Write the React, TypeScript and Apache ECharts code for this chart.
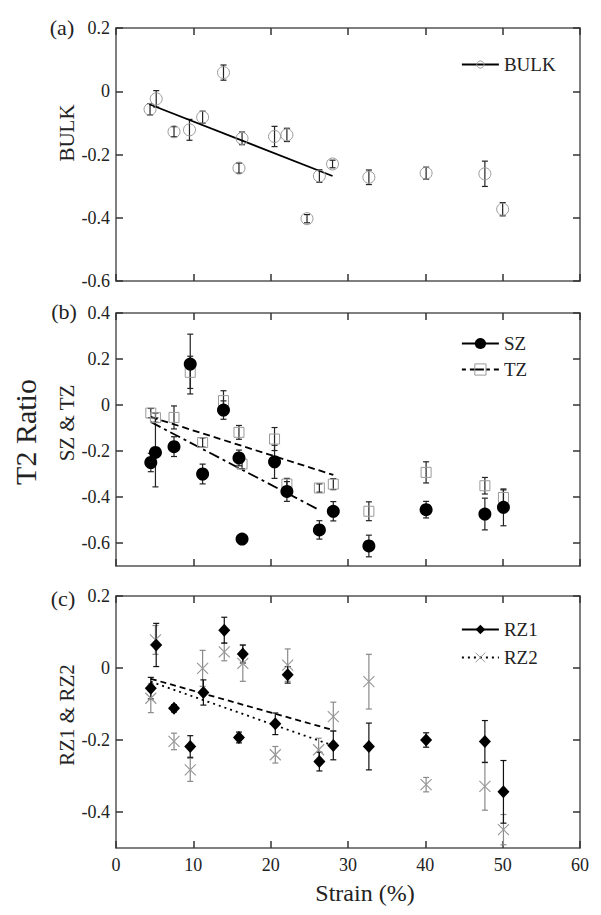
import React, { useEffect, useRef } from 'react';
import * as echarts from 'echarts';

const FONT = 'Liberation Serif';

// ---------- Panel (a) BULK ----------
const strainBulk = [4.4, 5.2, 7.5, 9.5, 11.2, 13.9, 15.9, 16.3, 20.5, 22.1, 24.7, 26.3, 28.0, 32.7, 40.1, 47.7, 50.0];
const bulk = [-0.057, -0.024, -0.128, -0.122, -0.082, 0.059, -0.243, -0.149, -0.143, -0.138, -0.403, -0.268, -0.23, -0.272, -0.259, -0.261, -0.373];
const bulkErr = [0.018, 0.026, 0.016, 0.033, 0.019, 0.024, 0.016, 0.02, 0.032, 0.021, 0.013, 0.02, 0.012, 0.023, 0.019, 0.04, 0.021];
const bulkFitX = [4.3, 28.0];
const bulkFitY = [-0.041, -0.268];

// ---------- Panel (b) SZ & TZ ----------
const strainSZ = [4.5, 5.1, 7.5, 9.6, 11.2, 13.9, 15.9, 16.3, 20.5, 22.1, 26.3, 28.1, 32.7, 40.1, 47.7, 50.1];
const sz = [-0.25, -0.206, -0.181, 0.178, -0.3, -0.022, -0.23, -0.583, -0.247, -0.376, -0.543, -0.462, -0.613, -0.455, -0.474, -0.445];
const szErr = [0.04, 0.15, 0.043, 0.13, 0.043, 0.04, 0.034, 0.01, 0.072, 0.043, 0.04, 0.042, 0.047, 0.036, 0.069, 0.08];
const strainTZ = [4.5, 5.1, 7.5, 9.6, 11.2, 13.9, 15.9, 16.3, 20.5, 22.1, 26.3, 28.1, 32.7, 40.1, 47.7, 50.1];
const tz = [-0.035, -0.055, -0.054, 0.142, -0.163, 0.019, -0.119, -0.257, -0.148, -0.344, -0.361, -0.344, -0.462, -0.293, -0.351, -0.402];
const tzErr = [0.02, 0.02, 0.05, 0.07, 0.02, 0.043, 0.03, 0.02, 0.05, 0.025, 0.018, 0.024, 0.041, 0.046, 0.036, 0.033];
const szFitX = [4.5, 26.2];
const szFitY = [-0.074, -0.455];
const tzFitX = [4.5, 28.1];
const tzFitY = [-0.052, -0.304];

// ---------- Panel (c) RZ1 & RZ2 ----------
const strainRZ1 = [4.5, 5.2, 7.5, 9.6, 11.3, 14.0, 15.9, 16.4, 20.6, 22.2, 26.3, 28.1, 32.7, 40.1, 47.7, 50.1];
const rz1 = [-0.056, 0.064, -0.112, -0.218, -0.068, 0.105, -0.193, 0.039, -0.155, -0.019, -0.26, -0.215, -0.218, -0.2, -0.204, -0.344];
const rz1Err = [0.03, 0.06, 0.01, 0.03, 0.035, 0.036, 0.015, 0.025, 0.03, 0.023, 0.026, 0.04, 0.065, 0.02, 0.058, 0.087];
const strainRZ2 = [4.5, 5.1, 7.5, 9.6, 11.2, 14.0, 16.4, 20.6, 22.2, 26.2, 28.1, 32.7, 40.1, 47.7, 50.1];
const rz2 = [-0.084, 0.078, -0.204, -0.283, -0.001, 0.045, 0.013, -0.241, 0.008, -0.227, -0.135, -0.038, -0.324, -0.329, -0.449];
const rz2Err = [0.04, 0.04, 0.023, 0.032, 0.05, 0.025, 0.05, 0.023, 0.045, 0.032, 0.04, 0.076, 0.02, 0.066, 0.042];
const rz1FitX = [4.5, 28.0];
const rz1FitY = [-0.03, -0.172];
const rz2FitX = [4.5, 28.0];
const rz2FitY = [-0.038, -0.215];

// ---------- Axes ----------
const xMin = 0;
const xMax = 60;
const xStep = 10;
const yRanges = [
  { min: -0.6, max: 0.2, ticks: [-0.6, -0.4, -0.2, 0, 0.2] },
  { min: -0.7, max: 0.4, ticks: [-0.6, -0.4, -0.2, 0, 0.2, 0.4] },
  { min: -0.5, max: 0.2, ticks: [-0.4, -0.2, 0, 0.2] },
];

const FRAME = '#555';
const TEXT = '#222';
const GREY = '#9a9a9a';
const X_MARK = 'path://M0,0L10,10M10,0L0,10';

const pts = (xs: number[], ys: number[]) => xs.map((x, i) => [x, ys[i]]);

const errSeries = (name: string, xs: number[], ys: number[], es: number[], axis: number, color: string) => ({
  type: 'custom',
  name,
  xAxisIndex: axis,
  yAxisIndex: axis,
  silent: true,
  z: 2,
  data: xs.map((x, i) => [x, ys[i] - es[i], ys[i] + es[i]]),
  encode: { x: 0, y: [1, 2] },
  renderItem: (_p: any, api: any) => {
    const x = api.value(0);
    const a = api.coord([x, api.value(1)]);
    const b = api.coord([x, api.value(2)]);
    const cap = 3;
    const style = { stroke: color, lineWidth: 1.2, fill: 'none' };
    return {
      type: 'group',
      children: [
        { type: 'line', shape: { x1: a[0], y1: a[1], x2: b[0], y2: b[1] }, style },
        { type: 'line', shape: { x1: a[0] - cap, y1: a[1], x2: a[0] + cap, y2: a[1] }, style },
        { type: 'line', shape: { x1: b[0] - cap, y1: b[1], x2: b[0] + cap, y2: b[1] }, style },
      ],
    };
  },
});

const scatterSeries = (name: string, xs: number[], ys: number[], axis: number, symbol: string, size: any, itemStyle: any) => ({
  type: 'scatter',
  name,
  xAxisIndex: axis,
  yAxisIndex: axis,
  symbol,
  symbolSize: size,
  itemStyle: { ...itemStyle, opacity: 1 },
  z: 4,
  data: pts(xs, ys),
});

const fitSeries = (name: string, xs: number[], ys: number[], axis: number, dash: any, symbol: string, itemStyle: any) => ({
  type: 'line',
  name,
  xAxisIndex: axis,
  yAxisIndex: axis,
  symbol,
  showSymbol: false,
  itemStyle,
  lineStyle: { color: '#000', width: 1.8, type: dash },
  z: 3,
  data: pts(xs, ys),
});

const grids = [
  { left: 116, top: 28, width: 464, height: 253 },
  { left: 116, top: 313, width: 464, height: 253 },
  { left: 116, top: 596, width: 464, height: 252 },
].map((g) => ({ ...g, show: false }));

const axisLineStyle = { show: true, onZero: false, lineStyle: { color: FRAME, width: 1.5 } };
const tickStyle = { show: true, inside: true, length: 7, lineStyle: { color: '#333', width: 1.5 } };

const xAxes: any[] = [];
const yAxes: any[] = [];
['bottom', 'top'].forEach((pos) => {
  [0, 1, 2].forEach((g) => {
    xAxes.push({
      type: 'value',
      gridIndex: g,
      position: pos,
      min: xMin,
      max: xMax,
      interval: xStep,
      axisLine: axisLineStyle,
      splitLine: { show: false },
      axisTick: tickStyle,
      axisLabel: {
        show: pos === 'bottom' && g === 2,
        fontFamily: FONT,
        fontSize: 18,
        color: TEXT,
        margin: 8,
      },
    });
  });
});
['left', 'right'].forEach((pos) => {
  [0, 1, 2].forEach((g) => {
    const r = yRanges[g];
    yAxes.push({
      type: 'value',
      gridIndex: g,
      position: pos,
      min: r.min,
      max: r.max,
      axisLine: axisLineStyle,
      splitLine: { show: false },
      axisTick: { ...tickStyle, customValues: r.ticks },
      axisLabel: {
        show: pos === 'left',
        customValues: r.ticks,
        fontFamily: FONT,
        fontSize: 18,
        color: TEXT,
        margin: 6,
      },
    });
  });
});

const openGrey = { color: 'transparent', borderColor: GREY, borderWidth: 1 };
const black = { color: '#000' };

const series: any[] = [
  // (a)
  errSeries('BULK error', strainBulk, bulk, bulkErr, 0, '#222'),
  scatterSeries('BULK data', strainBulk, bulk, 0, 'circle', 12, openGrey),
  fitSeries('BULK', bulkFitX, bulkFitY, 0, 'solid', 'circle', openGrey),
  // (b)
  errSeries('TZ error', strainTZ, tz, tzErr, 1, '#222'),
  errSeries('SZ error', strainSZ, sz, szErr, 1, '#222'),
  scatterSeries('TZ data', strainTZ, tz, 1, 'rect', 10, openGrey),
  scatterSeries('SZ data', strainSZ, sz, 1, 'circle', 13, black),
  fitSeries('SZ', szFitX, szFitY, 1, [11, 4, 3, 4], 'circle', black),
  fitSeries('TZ', tzFitX, tzFitY, 1, [7, 4], 'rect', openGrey),
  // (c)
  errSeries('RZ2 error', strainRZ2, rz2, rz2Err, 2, '#8a8a8a'),
  errSeries('RZ1 error', strainRZ1, rz1, rz1Err, 2, '#111'),
  scatterSeries('RZ2 data', strainRZ2, rz2, 2, X_MARK, 11, { color: 'transparent', borderColor: GREY, borderWidth: 1.2 }),
  scatterSeries('RZ1 data', strainRZ1, rz1, 2, 'diamond', [12, 13], black),
  fitSeries('RZ1', rz1FitX, rz1FitY, 2, [6, 4], 'diamond', black),
  fitSeries('RZ2', rz2FitX, rz2FitY, 2, [2, 4], X_MARK, { color: 'transparent', borderColor: GREY, borderWidth: 1.2 }),
];

const legendText = { fontFamily: FONT, fontSize: 19, color: TEXT };
const legendBase = {
  orient: 'vertical',
  left: 461,
  itemWidth: 37,
  selectedMode: false,
  textStyle: legendText,
  padding: 0,
};

const legends = [
  {
    ...legendBase,
    top: 55,
    itemHeight: 9,
    data: [{ name: 'BULK', lineStyle: { type: 'solid', width: 1.8 }, itemStyle: openGrey }],
  },
  {
    ...legendBase,
    top: 334,
    itemHeight: 14,
    itemGap: 7,
    data: [
      { name: 'SZ', lineStyle: { type: 'solid', width: 1.8 }, itemStyle: black },
      { name: 'TZ', lineStyle: { type: [4, 4, 14, 2], width: 1.8 }, itemStyle: openGrey },
    ],
  },
  {
    ...legendBase,
    top: 620,
    itemHeight: 12,
    itemGap: 9,
    data: [
      { name: 'RZ1', lineStyle: { type: 'solid', width: 1.8 }, itemStyle: black },
      { name: 'RZ2', lineStyle: { type: [2, 4], width: 1.8 }, itemStyle: { color: 'transparent', borderColor: GREY, borderWidth: 1 } },
    ],
  },
];

const txt = (text: string, x: number, y: number, size: number, rot = 0) => ({
  type: 'text',
  x,
  y,
  rotation: rot,
  silent: true,
  style: {
    text,
    fontFamily: FONT,
    fontSize: size,
    fill: TEXT,
    align: 'center',
    verticalAlign: 'middle',
  },
});

const graphics = [
  txt('(a)', 62, 27, 22),
  txt('(b)', 64, 311, 22),
  txt('(c)', 63, 598, 22),
  txt('BULK', 67, 133, 21, Math.PI / 2),
  txt('SZ & TZ', 67, 423, 21, Math.PI / 2),
  txt('RZ1 & RZ2', 67, 715, 21, Math.PI / 2),
  txt('T2 Ratio', 25, 432, 30, Math.PI / 2),
  txt('Strain (%)', 365, 893, 24),
];

export default function App() {
  const ref = useRef<HTMLDivElement>(null);
  useEffect(() => {
    const chart = echarts.init(ref.current as HTMLDivElement, null, { renderer: 'svg' });
    chart.setOption({
      animation: false,
      backgroundColor: '#fff',
      grid: grids,
      xAxis: xAxes,
      yAxis: yAxes,
      legend: legends,
      series,
      graphic: graphics,
    });
    return () => chart.dispose();
  }, []);
  return <div ref={ref} style={{ position: 'absolute', left: 0, top: 0, width: 601, height: 915 }} />;
}
